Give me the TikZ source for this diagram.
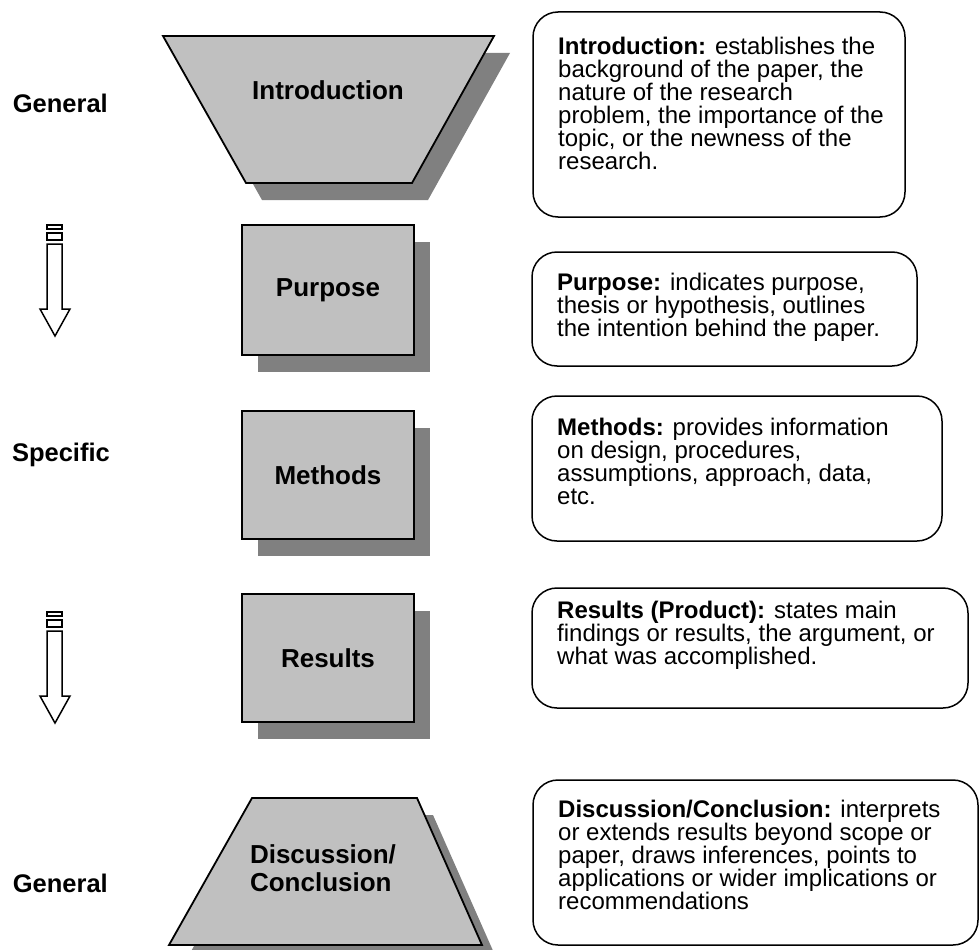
\documentclass[tikz,border=0pt]{standalone}
\usepackage{fontspec}
\setmainfont{Liberation Sans}
\usetikzlibrary{shadows}
\definecolor{boxgray}{HTML}{C0C0C0}
\definecolor{shadowgray}{HTML}{808080}
\tikzset{
  shapebody/.style={draw=black, line width=1.8pt, fill=boxgray, line join=miter},
  shadowbody/.style={fill=shadowgray},
  rectbox/.style={shapebody, minimum width=172pt, inner sep=0pt,
    drop shadow={shadow xshift=16pt, shadow yshift=-17pt, fill=shadowgray, opacity=1}},
  desc/.style={draw=black, line width=1.5pt, rounded corners=25pt},
  lbl/.style={font=\fontsize{26}{28}\selectfont\bfseries, align=center, inner sep=0pt},
  sidelbl/.style={font=\fontsize{25.5}{27}\selectfont\bfseries, anchor=east, inner sep=0pt},
  desctext/.style={font=\fontsize{24}{23}\selectfont, align=left, anchor=north west, inner sep=0pt},
  blockarrow/.style={draw=black, line width=1.5pt, fill=white, line join=miter}
}
\begin{document}
\begin{tikzpicture}[x=1pt,y=-1pt]
\useasboundingbox (0,0) rectangle (980,950);
\clip (0,0) rectangle (980,950);

% ---------- Introduction trapezoid ----------
\coordinate (i1) at (163,36); \coordinate (i2) at (494,36);
\coordinate (i3) at (412,183); \coordinate (i4) at (246,183);
\fill[shadowbody] ([shift={(16,17)}]i1) -- ([shift={(16,17)}]i2) -- ([shift={(16,17)}]i3) -- ([shift={(16,17)}]i4) -- cycle;
\draw[shapebody] (i1) -- (i2) -- (i3) -- (i4) -- cycle;
\node[lbl] (intro) at (328,90) {Introduction};

% ---------- rectangles ----------
\node[rectbox, minimum height=130pt] (purpose) at (328,290) {};
\node[lbl] (purposet) at (purpose.center) {Purpose};
\node[rectbox, minimum height=128pt] (methods) at (328,475) {};
\node[lbl] (methodst) at (methods.center) {Methods};
\node[rectbox, minimum height=128pt] (results) at (328,658) {};
\node[lbl] (resultst) at (results.center) {Results};

% ---------- Discussion trapezoid ----------
\coordinate (d1) at (252,798); \coordinate (d2) at (417,798);
\coordinate (d3) at (482,945); \coordinate (d4) at (169,945);
\fill[shadowbody] ([shift={(16,17)}]d1) -- ([shift={(16,17)}]d2) -- ([shift={(16,17)}]d3) -- ([shift={(16,17)}]d4) -- cycle;
\draw[shapebody] (d1) -- (d2) -- (d3) -- (d4) -- cycle;
\node[lbl, align=left] (disc) at (323,868) {Discussion/\\Conclusion};

% ---------- side labels ----------
\node[sidelbl] (gen1) at (108,103) {General};
\node[sidelbl] (spec) at (110,455) {Specific};
\node[sidelbl] (gen2) at (108,883) {General};

% ---------- block arrows ----------
\foreach \t/\nm in {225/arrA, 612/arrB}{
  \draw[blockarrow] (47,\t) rectangle (62,\t+4);
  \draw[blockarrow] (47,\t+8) rectangle (62,\t+15);
  \draw[blockarrow] (47,\t+19) -- (62,\t+19) -- (62,\t+84) -- (70,\t+84)
     -- (55,\t+111) -- (40,\t+84) -- (47,\t+84) -- cycle;
  \coordinate (\nm) at (55,\t);
}

% ---------- description boxes ----------
\draw[desc] (533,12) rectangle (905,217);
\node[desctext] (dintro) at (558,37) {\textbf{Introduction:} establishes the\\background of the paper, the\\nature of the research\\problem, the importance of the\\topic, or the newness of the\\research.};

\draw[desc] (532,252) rectangle (917,366);
\node[desctext] (dpurpose) at (557,273) {\textbf{Purpose:} indicates purpose,\\thesis or hypothesis, outlines\\the intention behind the paper.};

\draw[desc] (532,396) rectangle (942,541);
\node[desctext] (dmethods) at (557,418) {\textbf{Methods:} provides information\\on design, procedures,\\assumptions, approach, data,\\etc.};

\draw[desc] (532,588) rectangle (968,708);
\node[desctext] (dresults) at (557,601) {\textbf{Results (Product):} states main\\findings or results, the argument, or\\what was accomplished.};

\draw[desc] (533,780) rectangle (978,945);
\node[desctext] (ddisc) at (558,800) {\textbf{Discussion/Conclusion:} interprets\\or extends results beyond scope or\\paper, draws inferences, points to\\applications or wider implications or\\recommendations};
\end{tikzpicture}
\end{document}
